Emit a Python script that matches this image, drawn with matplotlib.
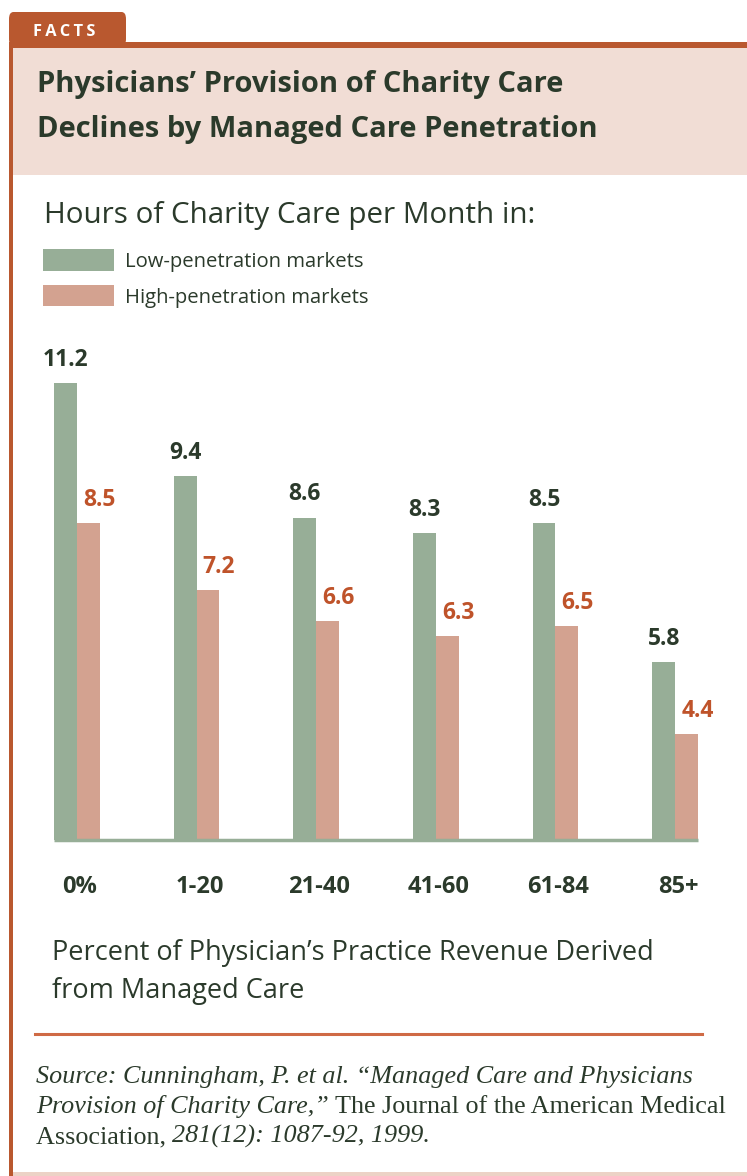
import matplotlib
matplotlib.use("Agg")
import matplotlib.pyplot as plt
from matplotlib.patches import Rectangle, FancyBboxPatch
import numpy as np

# ---------------- data ----------------
categories = ["0%", "1-20", "21-40", "41-60", "61-84", "85+"]
low_penetration = [11.2, 9.4, 8.6, 8.3, 8.5, 5.8]
high_penetration = [8.5, 7.2, 6.6, 6.3, 6.5, 4.4]
series_names = ["Low-penetration markets", "High-penetration markets"]

title_lines = ["Physicians\u2019 Provision of Charity Care",
               "Declines by Managed Care Penetration"]
subtitle = "Hours of Charity Care per Month in:"
xlabel_lines = ["Percent of Physician\u2019s Practice Revenue Derived",
                "from Managed Care"]

# ---------------- style ----------------
W, H = 747, 1176
GREEN = "#97ae97"
PINK = "#d3a290"
ORANGE = "#b9582f"
ORANGE_TXT = "#bf532a"
DARK = "#2b3a2b"
TITLE_BG = "#f1ddd5"
SANS = ["Open Sans", "DejaVu Sans"]
SERIF = "Liberation Serif"

fig = plt.figure(figsize=(W / 100, H / 100), dpi=100)
fig.patch.set_facecolor("white")


def fx(px):
    return px / W


def fy(py):
    return 1 - py / H


def frect(x0, y0, x1, y1, **kw):
    r = Rectangle((fx(x0), fy(y1)), fx(x1) - fx(x0), fy(y0) - fy(y1),
                  transform=fig.transFigure, **kw)
    fig.patches.append(r)
    return r


# frame
tab = FancyBboxPatch((fx(9), fy(46)), fx(126) - fx(9), fy(12) - fy(46),
                     boxstyle="round,pad=0,rounding_size=0.006",
                     transform=fig.transFigure, facecolor=ORANGE,
                     edgecolor="none")
fig.patches.append(tab)
frect(9, 42, W, 48, facecolor=ORANGE, edgecolor="none")
frect(9, 42, 13, H, facecolor=ORANGE, edgecolor="none")
frect(13, 48, W, 175, facecolor=TITLE_BG, edgecolor="none")
frect(13, 1172, W, H, facecolor="#ecd2c6", edgecolor="none")

fig.text(fx(33), fy(36), "F\u2009A\u2009C\u2009T\u2009S", color="white",
         fontsize=11.8, fontweight="bold", family=SANS, va="baseline",
         ha="left")

for i, (line, base) in enumerate(zip(title_lines, [92, 137])):
    fig.text(fx(37), fy(base), line, color=DARK, fontsize=21.0,
             fontweight="bold", family=SANS, va="baseline", ha="left")

fig.text(fx(44), fy(223), subtitle, color=DARK, fontsize=21.3,
         family=SANS, va="baseline", ha="left")

# legend
for i, (name, col) in enumerate(zip(series_names, [GREEN, PINK])):
    yc = 260 + 35 * i
    frect(43, yc - 10.5, 114, yc + 10.5, facecolor=col, edgecolor="none")
    fig.text(fx(125), fy(yc + 7.5), name, color=DARK, fontsize=14.6,
             family=SANS, va="baseline", ha="left")

# ---------------- bars ----------------
ax_left, ax_right, ax_top, ax_bot = 40, 720, 340, 840
ax = fig.add_axes([fx(ax_left), fy(ax_bot), fx(ax_right) - fx(ax_left),
                   fy(ax_top) - fy(ax_bot)])
ax.set_facecolor("none")
x = np.arange(len(categories))
bw = 0.19
ax.bar(x - bw / 2, low_penetration, width=bw, color=GREEN, edgecolor="none")
ax.bar(x + bw / 2, high_penetration, width=bw, color=PINK, edgecolor="none")
ax.set_xlim((ax_left - 77) / 119.6, (ax_right - 77) / 119.6)
ymin = 2.35
ax.set_ylim(ymin, ymin + (ax_bot - ax_top) / 51.6)
for s in ["top", "right", "left", "bottom"]:
    ax.spines[s].set_visible(False)
ax.plot([x[0] - bw, x[-1] + bw], [ymin, ymin], color=GREEN, lw=2.5,
        solid_capstyle="butt", clip_on=False)
ax.set_yticks([])
ax.set_xticks(x + 0.025)
ax.set_xticklabels(categories, fontsize=17, fontweight="bold", color=DARK,
                   family=SANS)
ax.tick_params(axis="x", length=0, pad=25.5)

for xi, v in zip(x, low_penetration):
    ax.annotate(f"{v:.1f}", (xi - bw / 2, v), xytext=(0, 8),
                textcoords="offset points", ha="center", va="bottom",
                fontsize=16.5, fontweight="bold", color=DARK, family=SANS)
for xi, v in zip(x, high_penetration):
    ax.annotate(f"{v:.1f}", (xi + bw / 2, v), xytext=(8, 8),
                textcoords="offset points", ha="center", va="bottom",
                fontsize=16.5, fontweight="bold", color=ORANGE_TXT,
                family=SANS)

for i, (line, base) in enumerate(zip(xlabel_lines, [960, 998])):
    fig.text(fx(52), fy(base), line, color=DARK, fontsize=19.5,
             family=SANS, va="baseline", ha="left")

# rule
fig.add_artist(plt.Line2D([fx(35), fx(702)], [fy(1034), fy(1034)],
                          color="#cf6a45", lw=2.2, transform=fig.transFigure))

# source text with mixed italic / roman
source_lines = [
    [("Source: Cunningham, P. et al. \u201cManaged Care and Physicians", "italic")],
    [("Provision of Charity Care,\u201d", "italic"),
     (" The Journal of the American Medical", "normal")],
    [("Association, ", "normal"), ("281(12): 1087-92, 1999.", "italic")],
]
fig.canvas.draw()
renderer = fig.canvas.get_renderer()
for i, (segs, base) in enumerate(zip(source_lines, [1083, 1113, 1143])):
    xpos = 36
    for txt, style in segs:
        t = fig.text(fx(xpos), fy(base), txt, color=DARK,
                     fontsize=18.8, fontstyle=style, family=SERIF,
                     va="baseline", ha="left")
        bb = t.get_window_extent(renderer=renderer)
        xpos += bb.width

fig.savefig("out.png", dpi=100, facecolor="white")
